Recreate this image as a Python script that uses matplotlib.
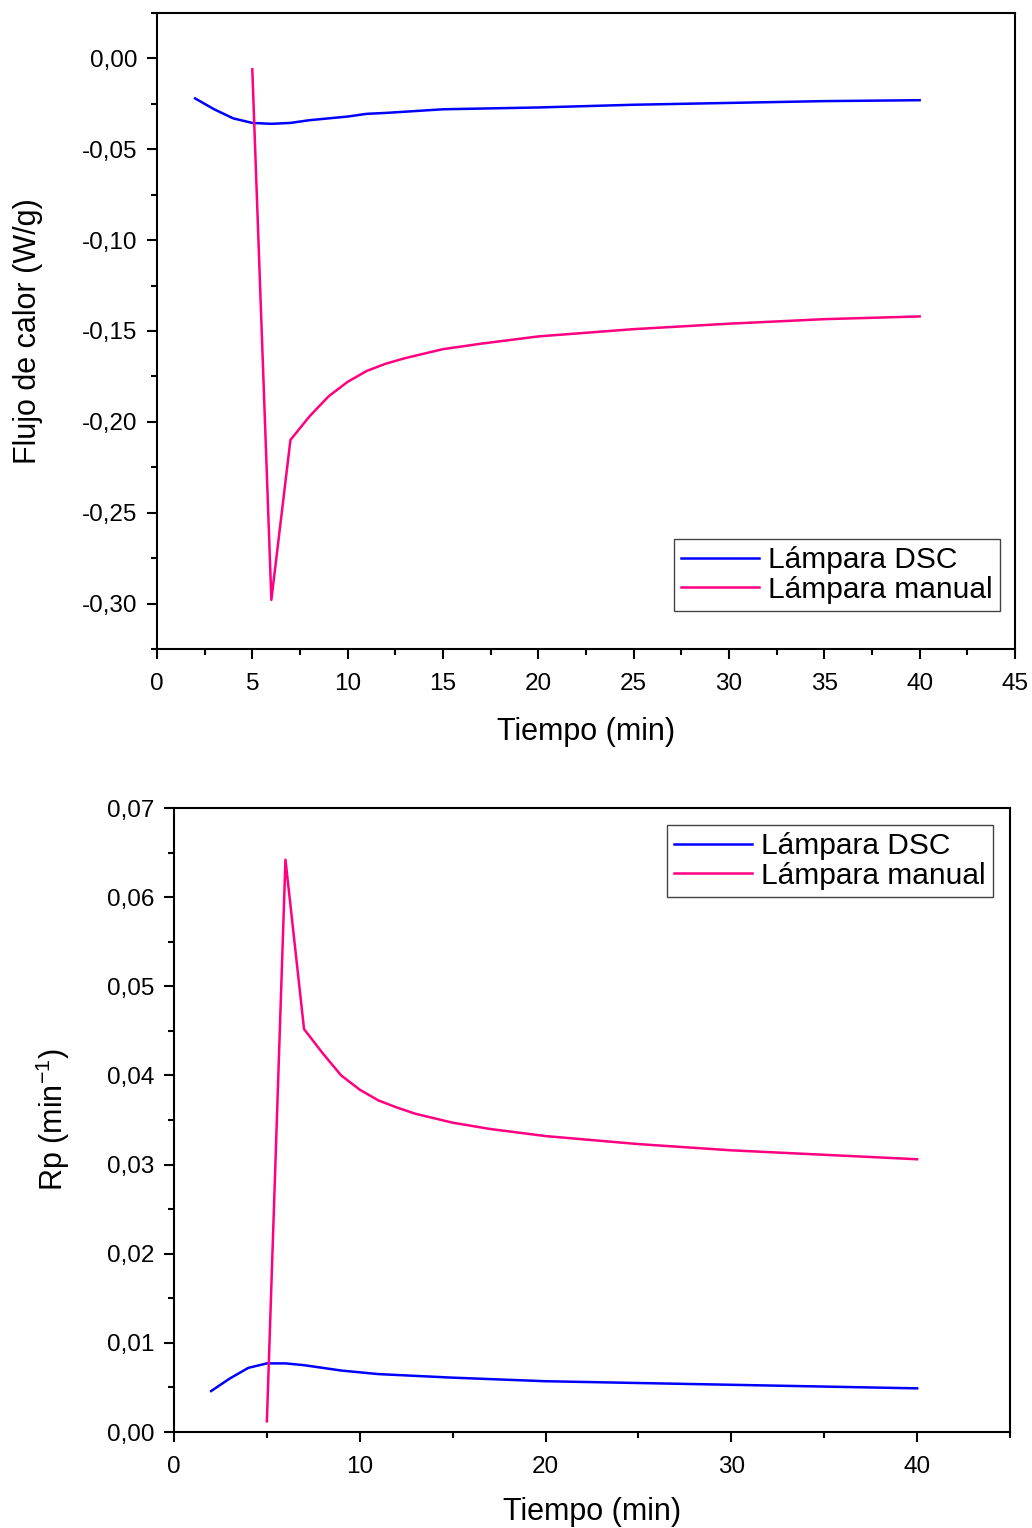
import numpy as np
import matplotlib
matplotlib.use('Agg')
import matplotlib.pyplot as plt
from matplotlib.ticker import MultipleLocator, FuncFormatter

plt.rcParams['font.family'] = ['Liberation Sans', 'DejaVu Sans']
plt.rcParams['mathtext.fontset'] = 'custom'
plt.rcParams['mathtext.rm'] = 'Liberation Sans'
plt.rcParams['mathtext.it'] = 'Liberation Sans:italic'

# tiempo (min)
t_dsc = [2, 3, 4, 5, 6, 7, 8, 9, 10, 11, 12, 15, 20, 25, 30, 35, 40]
t_man = [5, 6, 7, 8, 9, 10, 11, 12, 13, 14, 15, 17, 20, 25, 30, 35, 40]

# flujo de calor (W/g)
q_dsc = [-0.022, -0.028, -0.033, -0.0355, -0.036, -0.0355, -0.034, -0.033, -0.032,
         -0.0305, -0.030, -0.028, -0.027, -0.0255, -0.0245, -0.0235, -0.023]
q_man = [-0.006, -0.298, -0.210, -0.197, -0.186, -0.178, -0.172, -0.168, -0.165,
         -0.1625, -0.160, -0.157, -0.153, -0.149, -0.146, -0.1435, -0.142]

# velocidad de polimerizacion Rp (1/min)
rp_dsc = [0.0046, 0.0060, 0.0072, 0.0077, 0.0077, 0.0075, 0.0072, 0.0069, 0.0067,
          0.0065, 0.0064, 0.0061, 0.0057, 0.0055, 0.0053, 0.0051, 0.0049]
rp_man = [0.0012, 0.0642, 0.0452, 0.0425, 0.0400, 0.0384, 0.0372, 0.0364, 0.0357,
          0.0352, 0.0347, 0.0340, 0.0332, 0.0323, 0.0316, 0.0311, 0.0306]

labels = ['Lámpara DSC', 'Lámpara manual']
c_dsc = '#0000ff'
c_man = '#ff0080'

def coma(v, pos, nd=2):
    return ('%.*f' % (nd, v)).replace('.', ',')

fig = plt.figure(figsize=(10.32, 15.28), dpi=100)
ax1 = fig.add_axes([0.1521, 0.5753, 0.8314, 0.4162])
ax2 = fig.add_axes([0.1686, 0.0628, 0.8101, 0.4084])

def estilo(ax):
    for s in ax.spines.values():
        s.set_linewidth(1.5)
    ax.tick_params(which='major', direction='out', length=7, width=1.5,
                   labelsize=17.5, pad=7, top=False, right=False)
    ax.tick_params(which='minor', direction='out', length=4, width=1.5,
                   top=False, right=False)
    ax.tick_params(axis='x', which='major', pad=10)

def leyenda(ax, anchor):
    leg = ax.legend(loc='upper right', bbox_to_anchor=anchor, borderaxespad=0,
                    fontsize=21.5, fancybox=False, edgecolor='#444444', framealpha=1,
                    handlelength=2.6, handletextpad=0.3, labelspacing=0.05,
                    borderpad=0.25)
    leg.get_frame().set_linewidth(1.0)

# grafica superior
ax1.plot(t_dsc, q_dsc, color=c_dsc, lw=1.8, label=labels[0])
ax1.plot(t_man, q_man, color=c_man, lw=1.8, label=labels[1])
ax1.set_xlim(0, 45)
ax1.set_ylim(-0.325, 0.025)
ax1.xaxis.set_major_locator(MultipleLocator(5))
ax1.xaxis.set_minor_locator(MultipleLocator(2.5))
ax1.yaxis.set_major_locator(MultipleLocator(0.05))
ax1.yaxis.set_minor_locator(MultipleLocator(0.025))
ax1.yaxis.set_major_formatter(FuncFormatter(lambda v, p: coma(v, p, 2)))
ax1.set_xlabel('Tiempo (min)', fontsize=22, labelpad=16)
ax1.set_ylabel('Flujo de calor (W/g)', fontsize=22, labelpad=28)
estilo(ax1)
leyenda(ax1, (0.9825, 0.173))

# grafica inferior
ax2.plot(t_dsc, rp_dsc, color=c_dsc, lw=1.8, label=labels[0])
ax2.plot(t_man, rp_man, color=c_man, lw=1.8, label=labels[1])
ax2.set_xlim(0, 45)
ax2.set_ylim(0, 0.07)
ax2.xaxis.set_major_locator(MultipleLocator(10))
ax2.xaxis.set_minor_locator(MultipleLocator(5))
ax2.yaxis.set_major_locator(MultipleLocator(0.01))
ax2.yaxis.set_major_formatter(FuncFormatter(lambda v, p: coma(v, p, 2)))
ax2.yaxis.set_minor_locator(MultipleLocator(0.005))
ax2.set_xlabel('Tiempo (min)', fontsize=22, labelpad=14)
ax2.set_ylabel(r'Rp (min$^{\mathregular{-1}}$)', fontsize=22, labelpad=25)
estilo(ax2)
leyenda(ax2, (0.9797, 0.9728))

fig.savefig('out.png', dpi=100)
